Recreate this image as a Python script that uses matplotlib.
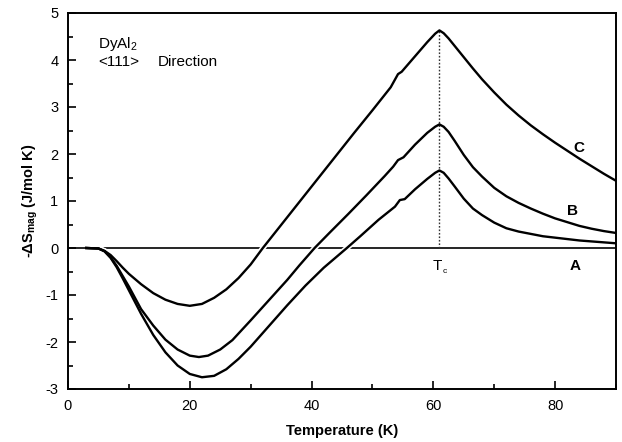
import matplotlib
matplotlib.use("Agg")
import matplotlib.pyplot as plt
from matplotlib.ticker import MultipleLocator

plt.rcParams["font.family"] = ["Liberation Sans", "DejaVu Sans"]
plt.rcParams["mathtext.fontset"] = "custom"
plt.rcParams["mathtext.rm"] = "Liberation Sans"
plt.rcParams["mathtext.it"] = "Liberation Sans:italic"
plt.rcParams["mathtext.bf"] = "Liberation Sans:bold"
plt.rcParams["axes.unicode_minus"] = False

# Magnetic entropy change of DyAl2 along <111>, three curves A, B, C
temp_c = [3, 5, 6, 7, 8, 9, 10, 12, 14, 16, 18, 20, 22, 24, 26, 28, 30, 32,
          35, 38, 41, 44, 47, 50, 53, 54.2, 54.8, 57, 59, 60.3, 61, 61.7, 62.5,
          63.5, 65, 66.5, 68, 70, 72, 74, 76, 78, 80, 82, 84, 86, 88, 90]
ds_c = [0, -0.01, -0.06, -0.15, -0.28, -0.42, -0.55, -0.77, -0.96, -1.1,
        -1.19, -1.23, -1.19, -1.06, -0.88, -0.64, -0.35, 0, 0.49, 0.98, 1.47,
        1.96, 2.45, 2.93, 3.42, 3.7, 3.75, 4.08, 4.38, 4.56, 4.63, 4.57, 4.46,
        4.3, 4.06, 3.82, 3.59, 3.31, 3.05, 2.82, 2.61, 2.42, 2.24, 2.07, 1.9,
        1.74, 1.58, 1.43]

temp_b = [3, 5, 6, 7, 8, 9, 10, 12, 14, 16, 18, 20, 21.5, 23, 25, 27, 30,
          33, 36, 38, 40.5, 43, 46, 49, 52, 53.4, 54.2, 55.1, 57, 59, 60.3, 61,
          61.7, 62.5, 63.5, 65, 66.5, 68, 70, 72, 74, 76, 78, 80, 82, 84, 86,
          88, 90]
ds_b = [0, -0.01, -0.07, -0.2, -0.38, -0.6, -0.82, -1.3, -1.65, -1.95,
        -2.16, -2.29, -2.32, -2.29, -2.16, -1.96, -1.54, -1.11, -0.68, -0.37,
        0, 0.33, 0.72, 1.12, 1.53, 1.73, 1.87, 1.93, 2.2, 2.45, 2.58, 2.63,
        2.58, 2.47, 2.28, 1.98, 1.72, 1.52, 1.28, 1.1, 0.96, 0.84, 0.73, 0.63,
        0.55, 0.47, 0.41, 0.36, 0.32]

temp_a = [3, 5, 6, 7, 8, 9, 10, 12, 14, 16, 18, 20, 22, 24, 26, 28, 30, 33,
          36, 39, 42, 45.8, 48, 51, 53.7, 54.5, 55.3, 57, 59, 60.3, 61, 61.7,
          62.5, 63.5, 65, 66.5, 68, 70, 72, 74, 76, 78, 80, 82, 84, 86, 88, 90]
ds_a = [0, -0.01, -0.07, -0.21, -0.41, -0.65, -0.9, -1.4, -1.85, -2.22,
        -2.5, -2.68, -2.75, -2.72, -2.58, -2.36, -2.1, -1.66, -1.22, -0.8,
        -0.42, 0, 0.25, 0.6, 0.88, 1.02, 1.04, 1.25, 1.47, 1.6, 1.65, 1.6,
        1.48, 1.31, 1.05, 0.84, 0.7, 0.54, 0.42, 0.35, 0.3, 0.25, 0.22, 0.19,
        0.16, 0.14, 0.12, 0.1]

curve_labels = ["C", "B", "A"]
label_pos_t = [83.9, 82.8, 83.3]
label_pos_ds = [2.13, 0.79, -0.38]

t_curie = 61
x_ticks = [0, 20, 40, 60, 80]
y_ticks = [-3, -2, -1, 0, 1, 2, 3, 4, 5]

fig = plt.figure(figsize=(6.22, 4.42), dpi=100)
ax = fig.add_axes([68 / 622, 1 - 389 / 442, 548 / 622, 376 / 442])

ax.axhline(0, color="black", lw=1.2, zorder=1)

curves = [(temp_c, ds_c), (temp_b, ds_b), (temp_a, ds_a)]
for t, s in curves:
    ax.plot(t, s, color="white", lw=4.0, solid_capstyle="butt", zorder=2)
for t, s in curves:
    ax.plot(t, s, color="black", lw=1.7, zorder=4)

ax.plot([t_curie, t_curie], [0, max(ds_c)], color="#333333", lw=1.0,
        linestyle=(0, (1.2, 1.3)), zorder=3)
ax.text(t_curie - 0.3, -0.38, "T", fontsize=11, ha="center", va="center")
ax.text(t_curie + 0.9, -0.5, "c", fontsize=6, ha="center", va="center")

for lab, x, y in zip(curve_labels, label_pos_t, label_pos_ds):
    ax.text(x, y, lab, fontsize=11, fontweight="bold", ha="center",
            va="center")

ax.text(4.9, 4.33, r"DyAl$_2$", fontsize=11, ha="left", va="center")
ax.text(4.9, 3.96, "<111>", fontsize=11, ha="left", va="center")
ax.text(14.8, 3.96, "Direction", fontsize=11, ha="left", va="center")

ax.set_xlim(0, 90)
ax.set_ylim(-3, 5)
ax.set_xticks(x_ticks)
ax.set_yticks(y_ticks)
ax.xaxis.set_minor_locator(MultipleLocator(10))
ax.yaxis.set_minor_locator(MultipleLocator(0.5))
ax.tick_params(which="both", direction="in", top=False, right=False,
               width=1.2, labelsize=10.5)
ax.tick_params(which="major", length=6, pad=7)
ax.tick_params(which="minor", length=3.5)
for sp in ax.spines.values():
    sp.set_linewidth(1.4)

ax.set_xlabel("Temperature (K)", fontsize=10.5, fontweight="bold", labelpad=8)
ax.set_ylabel(r"-$\mathbf{\Delta S_{mag}}$ (J/mol K)", fontsize=10.5,
              fontweight="bold", labelpad=4)

fig.savefig("out.png", dpi=100)
